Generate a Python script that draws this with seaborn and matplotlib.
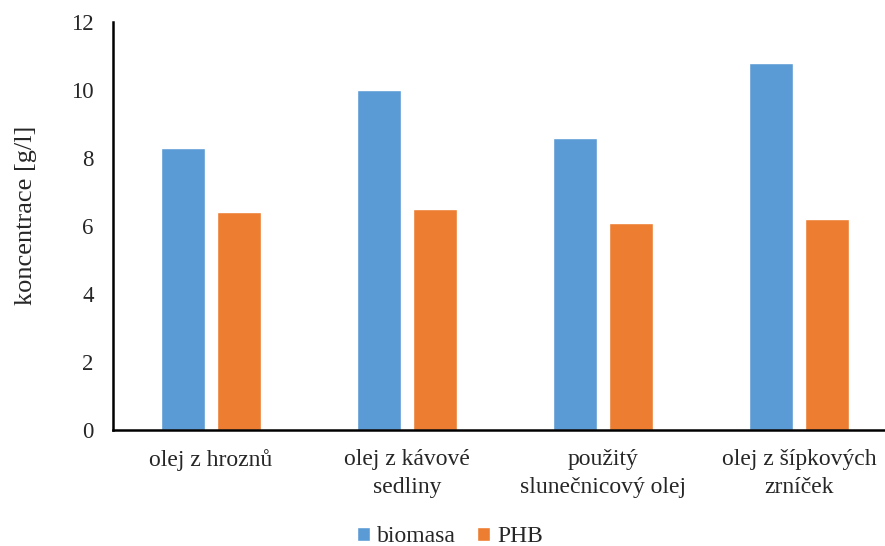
import matplotlib
matplotlib.use("Agg")
import matplotlib.pyplot as plt
import seaborn as sns
import pandas as pd

categories = ["olej z hroznů", "olej z kávové\nsedliny", "použitý\nslunečnicový olej", "olej z šípkových\nzrníček"]
biomasa = [8.3, 10.0, 8.6, 10.8]
phb = [6.4, 6.5, 6.1, 6.2]
series = ["biomasa", "PHB"]
yticks = [0, 2, 4, 6, 8, 10, 12]

df = pd.DataFrame({
    "kategorie": categories * 2,
    "hodnota": biomasa + phb,
    "serie": [series[0]] * 4 + [series[1]] * 4,
})

sns.set_style("white")
plt.rcParams["font.family"] = ["Liberation Serif", "DejaVu Serif"]

fig = plt.figure(figsize=(8.85, 5.46), dpi=100)
# plot area runs a little past the right edge of the figure
ax = fig.add_axes([113 / 885, 0.2125, 784 / 885, 0.7472])

sns.barplot(data=df, x="kategorie", y="hodnota", hue="serie",
            palette=["#5B9BD5", "#ED7D31"], width=0.577, gap=0.22,
            saturation=1, ax=ax, legend=True)

ax.set_ylim(0, 12)
ax.set_xlim(-0.5, 3.5)
ax.set_yticks(yticks)
ax.set_yticklabels([str(v) for v in yticks], fontsize=16.5)
ax.tick_params(axis="x", labelsize=17, length=0, pad=14)
ax.tick_params(axis="y", length=0, pad=14)
for lbl in ax.get_xticklabels():
    lbl.set_linespacing(1.4)
ax.set_xlabel("")
ax.set_ylabel("koncentrace [g/l]", fontsize=19)
ax.yaxis.set_label_coords(-(113 - 37) / 784, 0.527)

for side in ["top", "right"]:
    ax.spines[side].set_visible(False)
for side in ["left", "bottom"]:
    ax.spines[side].set_color("black")
    ax.spines[side].set_linewidth(1.8)

handles, labels = ax.get_legend_handles_labels()
if ax.get_legend() is not None:
    ax.get_legend().remove()
fig.legend(handles, labels, loc="center", bbox_to_anchor=(450 / 885, 1 - 537 / 546),
           ncol=2, frameon=False, fontsize=17,
           handlelength=0.55, handleheight=0.55, handletextpad=0.3, columnspacing=0.9)

fig.savefig("out.png", dpi=100)
